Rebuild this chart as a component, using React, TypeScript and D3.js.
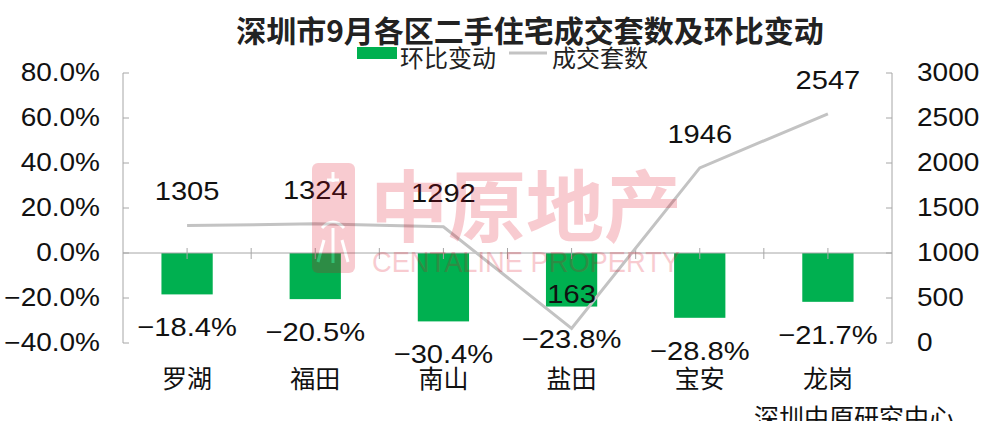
import * as d3 from "d3";

const districts = ["罗湖", "福田", "南山", "盐田", "宝安", "龙岗"];
const momChange = [-18.4, -20.5, -30.4, -23.8, -28.8, -21.7];
const deals = [1305, 1324, 1292, 163, 1946, 2547];
const leftTicks = [80, 60, 40, 20, 0, -20, -40];
const rightTicks = [3000, 2500, 2000, 1500, 1000, 500, 0];

const W = 983, H = 421;
const plot = { left: 123, right: 892, top: 73, bottom: 343 };
const numFont = "'Liberation Sans', Arial, sans-serif";
const cjkFont = "'Noto Sans CJK SC', sans-serif";
const green = "#00b050";
const lineGray = "#c3c3c3";
const axisGray = "#a6a6a6";

// numbers in the reference are a bit wider than Arial
function Num({ x, y, anchor = "middle", size = 25, children }) {
  return (
    <text transform={`translate(${x},${y}) scale(1.12,1)`} textAnchor={anchor}
      fontFamily={numFont} fontSize={size} fill="#111" dominantBaseline="central">
      {children}
    </text>
  );
}

export default function App() {
  const x = d3.scaleBand(districts, [plot.left, plot.right]).padding(0);
  const bw = x.bandwidth();
  const yL = d3.scaleLinear([-40, 80], [plot.bottom, plot.top]);
  const yR = d3.scaleLinear([0, 3000], [plot.bottom, plot.top]);
  const cx = (d) => x(d) + bw / 2;

  const line = d3.line<number>().x((_, i) => cx(districts[i])).y((d) => yR(d));

  const xTicks = [];
  districts.forEach((d, i) => {
    if (i > 0) xTicks.push(x(d));
    xTicks.push(cx(d));
  });

  return (
    <svg width={W} height={H} style={{ position: "absolute", left: 0, top: 0 }}>
      <rect width={W} height={H} fill="#fff" />
      <text x={530} y={29} textAnchor="middle" dominantBaseline="central"
        fontFamily={cjkFont} fontWeight="bold" fontSize={30} fill="#222">
        深圳市9月各区二手住宅成交套数及环比变动
      </text>

      {/* legend */}
      <rect x={357} y={47} width={40} height={12} fill={green} />
      <text x={400} y={56} dominantBaseline="central" fontFamily={cjkFont} fontSize={24} fill="#222">环比变动</text>
      <line x1={509} x2={547} y1={53} y2={53} stroke={lineGray} strokeWidth={3} />
      <text x={552} y={56} dominantBaseline="central" fontFamily={cjkFont} fontSize={24} fill="#222">成交套数</text>

      {/* axes */}
      <line x1={plot.left} x2={plot.left} y1={plot.top} y2={plot.bottom} stroke={axisGray} />
      {leftTicks.map((t) => (
        <g key={t}>
          <line x1={plot.left} x2={plot.left + 6} y1={yL(t)} y2={yL(t)} stroke={axisGray} />
          <Num x={100} y={yL(t)} anchor="end">{t < 0 ? `\u2212${Math.abs(t).toFixed(1)}%` : `${t.toFixed(1)}%`}</Num>
        </g>
      ))}
      <line x1={plot.right} x2={plot.right} y1={plot.top} y2={plot.bottom} stroke={axisGray} />
      {rightTicks.map((t) => (
        <g key={t}>
          <line x1={plot.right - 6} x2={plot.right} y1={yR(t)} y2={yR(t)} stroke={axisGray} />
          <Num x={917} y={yR(t)} anchor="start">{t}</Num>
        </g>
      ))}

      {/* bars */}
      {districts.map((d, i) => (
        <rect key={d} x={cx(d) - bw * 0.2} width={bw * 0.4}
          y={yL(0)} height={yL(momChange[i]) - yL(0)} fill={green} />
      ))}

      <line x1={plot.left} x2={plot.right} y1={yL(0)} y2={yL(0)} stroke={axisGray} />
      {xTicks.map((t, i) => (
        <line key={i} x1={t} x2={t} y1={yL(0) - 5} y2={yL(0) + 6} stroke={axisGray} />
      ))}

      {/* line */}
      <path d={line(deals)} fill="none" stroke={lineGray} strokeWidth={3} />

      {/* labels */}
      {districts.map((d, i) => (
        <g key={d}>
          <Num x={cx(d)} y={yL(momChange[i]) + 33} size={26}>{`\u2212${Math.abs(momChange[i]).toFixed(1)}%`}</Num>
          <Num x={cx(d)} y={yR(deals[i]) - 34} size={26}>{deals[i]}</Num>
          <text x={cx(d)} y={377} textAnchor="middle" dominantBaseline="central"
            fontFamily={cjkFont} fontSize={25} fill="#111">{d}</text>
        </g>
      ))}

      <text x={754} y={416} dominantBaseline="central" fontFamily={cjkFont} fontSize={25} fill="#111">
        深圳中原研究中心
      </text>

      {/* watermark */}
      <g opacity={0.2}>
        <rect x={312} y={163} width={43} height={110} rx={6} fill="#e0001b" />
        <path d="M333 172 v10 M327 180 h12 M322 228 q11 -12 22 0 M333 228 v35 M324 240 l-6 22 M342 240 l6 22"
          fill="none" stroke="#fff" strokeWidth={3} />
        <text x={526} y={202} textAnchor="middle" dominantBaseline="central" fill="#e0001b"
          fontFamily={cjkFont} fontWeight="bold" fontSize={78}>中原地产</text>
        <text x={372} y={261} dominantBaseline="central" textLength={308} fill="#e0001b"
          lengthAdjust="spacingAndGlyphs" fontFamily={numFont} fontSize={30}>CENTALINE PROPERTY</text>
      </g>
    </svg>
  );
}
